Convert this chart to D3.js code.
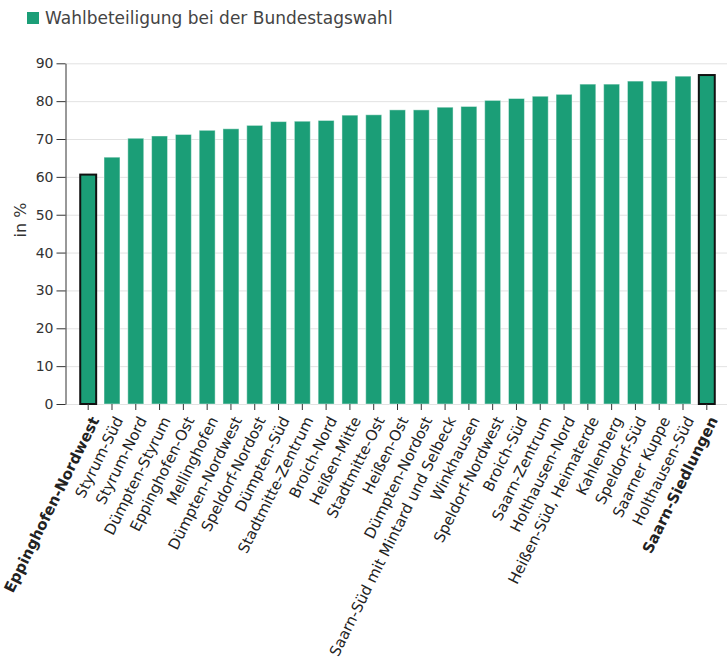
<!DOCTYPE html>
<html>
<head>
<meta charset="utf-8">
<script src="https://cdn.jsdelivr.net/npm/d3@7"></script>
<style>
    body { margin: 0; background: #fff; }
    svg { font-family: "DejaVu Sans", sans-serif; }
</style>
</head>
<body>
<div id="chart"></div>
<script>
// Stadtteile, sortiert nach Wahlbeteiligung
const districts = [
    "Eppinghofen-Nordwest", "Styrum-Süd", "Styrum-Nord", "Dümpten-Styrum", "Eppinghofen-Ost",
    "Mellinghofen", "Dümpten-Nordwest", "Speldorf-Nordost", "Dümpten-Süd", "Stadtmitte-Zentrum",
    "Broich-Nord", "Heißen-Mitte", "Stadtmitte-Ost", "Heißen-Ost", "Dümpten-Nordost",
    "Saarn-Süd mit Mintard und Selbeck", "Winkhausen", "Speldorf-Nordwest", "Broich-Süd",
    "Saarn-Zentrum", "Holthausen-Nord", "Heißen-Süd, Heimaterde", "Kahlenberg", "Speldorf-Süd",
    "Saarner Kuppe", "Holthausen-Süd", "Saarn-Siedlungen"
];
const turnout = [
    60.6, 65.2, 70.2, 70.8, 71.2, 72.3, 72.7, 73.6, 74.6, 74.7,
    74.9, 76.3, 76.4, 77.7, 77.7, 78.4, 78.6, 80.2, 80.7, 81.3,
    81.8, 84.5, 84.5, 85.3, 85.3, 86.6, 86.9
];
const highlighted = ["Eppinghofen-Nordwest", "Saarn-Siedlungen"];
const yTicks = [0, 10, 20, 30, 40, 50, 60, 70, 80, 90];
const legendLabel = "Wahlbeteiligung bei der Bundestagswahl";
const yLabel = "in %";

const width = 727, height = 662;
const plotLeft = 65, plotRight = 730, plotTop = 63.3, plotBottom = 404;
const color = "#1b9e77";

const data = districts.map((d, i) => ({ name: d, value: turnout[i] }));

const svg = d3.select("#chart").append("svg")
    .attr("width", width)
    .attr("height", height);

const x = d3.scaleBand()
    .domain(districts)
    .range([plotLeft, plotRight])
    .paddingInner(0.33)
    .paddingOuter(0.64);

const y = d3.scaleLinear()
    .domain([0, 90])
    .range([plotBottom, plotTop]);

// Gitterlinien
svg.append("g")
    .selectAll("line")
    .data(yTicks)
    .enter()
    .append("line")
    .attr("x1", plotLeft)
    .attr("x2", width)
    .attr("y1", d => y(d) + 0.5)
    .attr("y2", d => y(d) + 0.5)
    .attr("stroke", "#e2e2e2")
    .attr("stroke-width", 1);

// Balken
svg.append("g")
    .selectAll("rect")
    .data(data)
    .enter()
    .append("rect")
    .attr("x", d => x(d.name))
    .attr("y", d => y(d.value))
    .attr("width", x.bandwidth())
    .attr("height", d => plotBottom - y(d.value))
    .attr("fill", color)
    .attr("stroke", d => highlighted.includes(d.name) ? "#111" : "rgba(255,255,255,0.45)")
    .attr("stroke-width", d => highlighted.includes(d.name) ? 2 : 1);

// y-Achse
const yAxis = svg.append("g")
    .attr("transform", `translate(${plotLeft + 0.5},0)`)
    .call(d3.axisLeft(y).tickValues(yTicks).tickSize(9).tickSizeOuter(0).tickPadding(3));
yAxis.selectAll("text")
    .attr("font-size", "14px")
    .attr("font-family", "DejaVu Sans")
    .attr("fill", "#333");
yAxis.selectAll("line").attr("stroke", "#333");
yAxis.select(".domain").attr("stroke", "#333");

// x-Achse
const xAxis = svg.append("g")
    .attr("transform", `translate(0,${plotBottom})`)
    .call(d3.axisBottom(x).tickSize(6).tickSizeOuter(0));
xAxis.select(".domain").remove();
xAxis.selectAll("line").attr("stroke", "#333");
xAxis.selectAll("text")
    .attr("font-size", "15px")
    .attr("font-family", "DejaVu Sans")
    .attr("fill", "#222")
    .attr("font-weight", d => highlighted.includes(d) ? "bold" : "normal")
    .attr("text-anchor", "end")
    .attr("dx", "-0.2em")
    .attr("dy", "0.35em")
    .attr("transform", "translate(0,7) rotate(-63.5)");

// Achsentitel
svg.append("text")
    .attr("transform", "translate(26,220) rotate(-90)")
    .attr("text-anchor", "middle")
    .attr("font-size", "16px")
    .attr("fill", "#333")
    .text(yLabel);

// Legende
svg.append("rect")
    .attr("x", 27)
    .attr("y", 12)
    .attr("width", 12)
    .attr("height", 12)
    .attr("fill", color);
svg.append("text")
    .attr("x", 45)
    .attr("y", 24)
    .attr("font-size", "17px")
    .attr("fill", "#444")
    .text(legendLabel);
</script>
</body>
</html>
